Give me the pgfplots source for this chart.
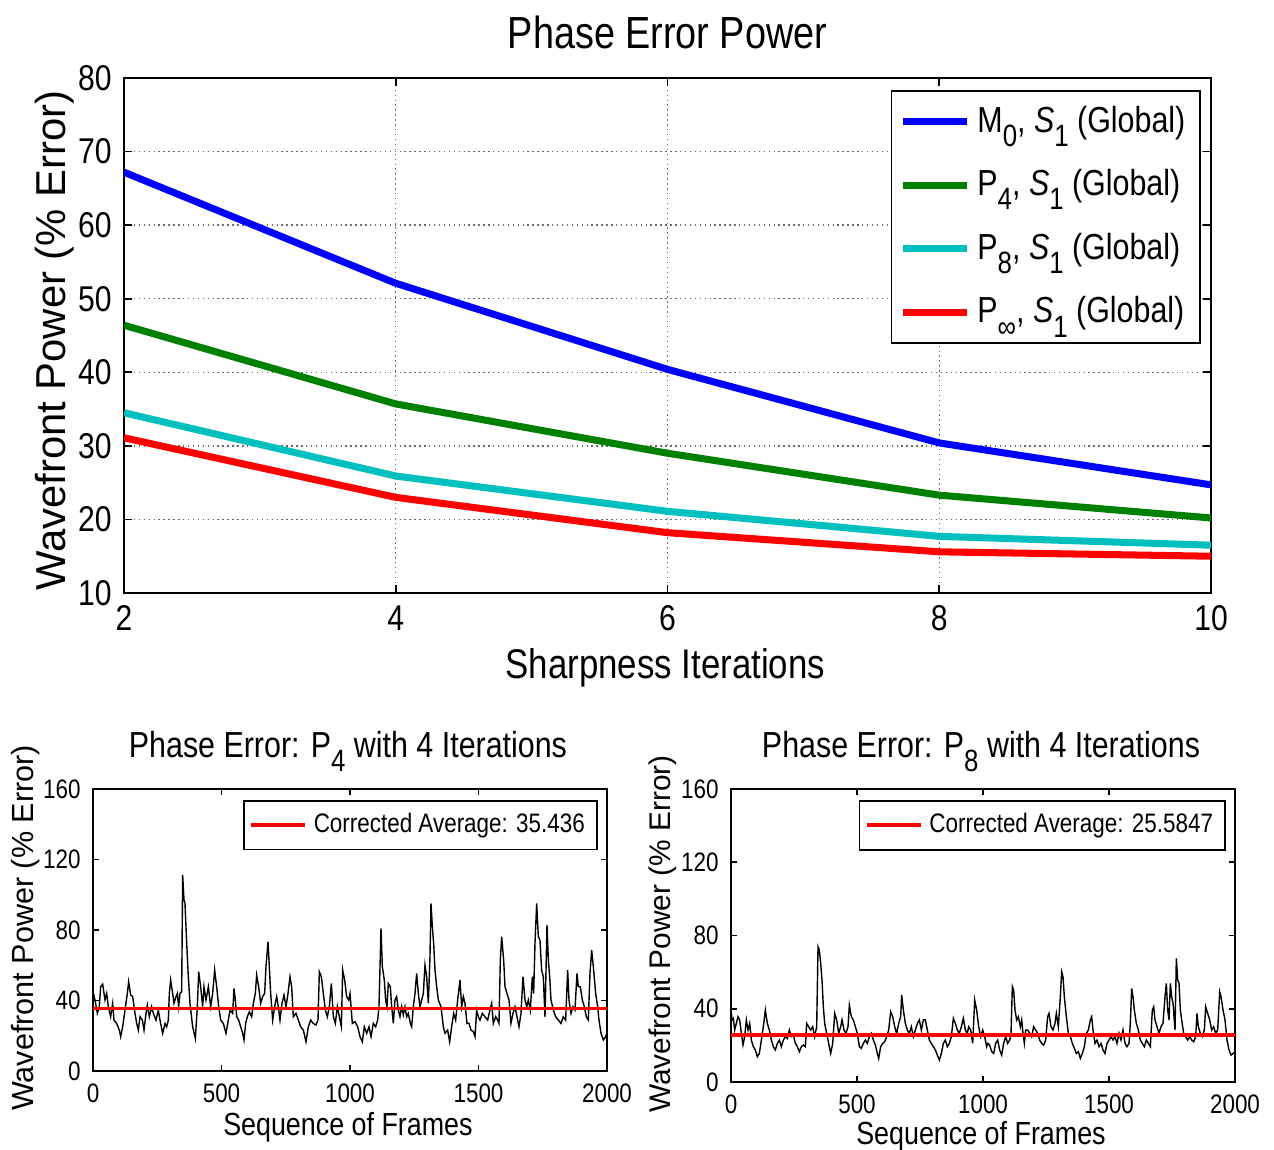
\documentclass[border=0pt]{standalone}
\usepackage{fontspec}
\setmainfont{Liberation Sans}
\newfontfamily\nar{Liberation Sans}[FakeStretch=0.84]
\usepackage{graphicx}
\usepackage{pgfplots}
\pgfplotsset{compat=1.18}

\definecolor{mblue}{RGB}{0,0,255}
\definecolor{mgreen}{RGB}{0,128,0}
\definecolor{mcyan}{RGB}{0,191,191}
\definecolor{mred}{RGB}{255,0,0}

\newcommand{\sub}[1]{\raisebox{-0.75ex}{\scalebox{0.85}{#1}}}

\pgfplotsset{
  matlab/.style={
    scale only axis,
    axis line style={black, line width=0.6pt},
    tick style={black, line width=0.5pt},
    tick align=inside,
    /pgf/number format/assume math mode=true,
    legend cell align=left,
    every axis title shift=0pt,
  },
}

\pgfplotstableread{
x   M0    P4    P8    Pinf
2   67.2  46.4  34.5  31.1
4   52.1  35.7  25.9  23.0
6   40.4  29.0  21.1  18.2
8   30.4  23.3  17.7  15.6
10  24.7  20.2  16.5  15.0
}\mainerr

\begin{document}
\begin{tikzpicture}
\useasboundingbox (0,0) rectangle (12.74,-11.49);

% ---------------- top: phase error power ----------------
\begin{axis}[matlab,
  at={(1.24cm,-5.93cm)}, anchor=south west,
  width=10.87cm, height=5.15cm,
  xmin=2, xmax=10, ymin=10, ymax=80,
  xtick={2,4,6,8,10}, ytick={10,20,...,80},
  grid=major, grid style={densely dotted, black!60, line width=0.4pt},
  major tick length=0.08cm,
  tick label style={font=\nar\fontsize{10.2}{12}\selectfont},
  title={Phase Error Power},
  title style={font=\nar\fontsize{12.8}{15}\selectfont,
    at={(axis description cs:0.5,1.058)}, anchor=base},
  xlabel={Sharpness Iterations},
  xlabel style={font=\nar\fontsize{11.8}{14}\selectfont,
    at={(axis description cs:0.498,-0.166)}, anchor=base},
  ylabel={Wavefront Power (\% Error)},
  ylabel style={font=\fontsize{11.9}{14}\selectfont,
    at={(axis description cs:-0.0635,0.49)}, anchor=center},
  legend style={at={(0.991,0.977)}, anchor=north east, draw=black, line width=0.5pt,
    font=\nar\fontsize{10.3}{12}\selectfont, row sep=0.18cm, inner sep=0.08cm},
  legend image code/.code={\draw[#1] (0cm,0cm) -- (0.64cm,0cm);},
]
\addplot[mblue, line width=2pt] table[x=x, y=M0] {\mainerr};
\addplot[mgreen, line width=2pt] table[x=x, y=P4] {\mainerr};
\addplot[mcyan, line width=2pt] table[x=x, y=P8] {\mainerr};
\addplot[mred, line width=2pt] table[x=x, y=Pinf] {\mainerr};
\legend{{M\sub{0}, \textit{S}\sub{1} (Global)}, {P\sub{4}, \textit{S}\sub{1} (Global)},
        {P\sub{8}, \textit{S}\sub{1} (Global)}, {P\sub{∞}, \textit{S}\sub{1} (Global)}}
\end{axis}

% ---------------- bottom left: P4 ----------------
\begin{axis}[matlab,
  at={(0.93cm,-10.71cm)}, anchor=south west,
  width=5.14cm, height=2.82cm,
  xmin=0, xmax=2000, ymin=0, ymax=160,
  xtick={0,500,...,2000}, ytick={0,40,...,160},
  major tick length=0.06cm,
  tick label style={font=\nar\fontsize{7.6}{9}\selectfont},
  scaled x ticks=false,
  xticklabel style={/pgf/number format/1000 sep={}},
  title={Phase Error: P\sub{4} with 4 Iterations},
  title style={font=\nar\fontsize{10.3}{12}\selectfont,
    at={(axis description cs:0.496,1.113)}, anchor=base},
  xlabel={Sequence of Frames},
  xlabel style={font=\nar\fontsize{9.1}{11}\selectfont,
    at={(axis description cs:0.496,-0.228)}, anchor=base},
  ylabel={Wavefront Power (\% Error)},
  ylabel style={font=\fontsize{8.7}{10}\selectfont,
    at={(axis description cs:-0.132,0.507)}, anchor=center},
  legend style={at={(0.982,0.961)}, anchor=north east, draw=black, line width=0.5pt,
    font=\nar\fontsize{7.6}{9}\selectfont, inner sep=0.05cm},
  legend image code/.code={\draw[#1] (0cm,0cm) -- (0.54cm,0cm);},
]
\addplot[black, line width=0.4pt, forget plot] table {
x y
0 45.0
7.8 40.3
16.9 32.7
24.6 36.5
29.8 47.8
37.6 49.3
46.7 40.3
53.2 44.0
59.7 36.5
68.7 30.8
76.5 38.4
81.7 28.9
92.1 27.0
102.5 23.2
107.7 19.5
115.4 25.1
124.5 34.6
133.6 44.0
138.8 50.7
146.6 43.1
154.3 42.2
163.4 32.7
169.9 27.0
176.4 23.2
182.9 30.8
192.0 28.9
198.5 23.2
206.2 32.7
211.4 37.4
219.2 30.8
228.3 36.5
234.8 32.7
245.1 28.9
254.2 34.6
260.7 28.9
271.1 21.4
280.2 27.0
286.6 25.1
293.1 28.9
297.0 44.0
302.2 51.6
310.0 44.0
315.2 38.4
323.0 42.2
328.1 44.0
333.3 36.5
338.5 44.0
345.0 45.0
348.9 111.2
354.1 97.0
358.0 95.1
364.5 72.4
370.9 53.5
377.4 38.4
387.8 25.1
398.2 18.5
406.0 36.5
411.2 56.3
418.9 47.8
426.7 36.5
431.9 47.8
439.7 40.3
448.8 47.8
457.8 36.5
465.6 44.0
473.4 57.3
481.2 47.8
489.0 36.5
496.8 28.9
507.1 27.0
517.5 21.4
526.6 28.9
533.1 34.6
543.5 32.7
548.6 46.9
553.8 40.3
559.0 30.8
566.8 28.9
574.6 25.1
582.4 21.4
587.5 17.6
594.0 27.0
600.5 30.8
608.3 33.6
617.4 30.8
623.9 38.4
631.6 44.0
636.8 54.4
644.6 47.8
652.4 38.4
660.2 42.2
667.9 44.0
673.1 59.2
680.9 73.4
686.1 59.2
691.3 44.0
699.1 28.9
706.9 36.5
714.6 42.2
721.1 36.5
727.6 28.9
735.4 38.4
743.2 43.1
751.0 36.5
758.8 44.0
766.5 53.5
773.0 47.8
779.5 30.8
789.9 32.7
799.0 28.9
808.0 25.1
818.4 23.2
828.8 16.6
837.9 25.1
847.0 28.9
857.3 27.0
867.7 26.1
875.5 28.9
880.7 56.3
888.5 53.5
896.2 44.0
904.0 34.6
911.8 30.8
919.6 36.5
927.4 49.7
935.1 30.8
942.9 27.0
950.7 36.5
958.5 30.8
966.3 25.1
971.5 57.3
979.2 51.6
987.0 42.2
994.8 40.3
1000.0 44.0
1009.0 27.0
1019.4 28.0
1029.8 25.1
1038.9 19.5
1047.9 16.6
1055.7 25.1
1064.8 21.4
1073.9 25.1
1081.7 19.5
1090.7 27.0
1099.8 25.1
1107.6 28.9
1112.8 36.5
1120.6 80.9
1125.8 59.2
1133.5 51.6
1138.7 40.3
1143.9 36.5
1149.1 49.7
1156.9 47.8
1162.1 36.5
1168.6 27.0
1175.1 40.3
1181.5 42.2
1188.0 34.6
1194.5 30.8
1201.0 36.5
1207.5 31.8
1214.0 36.5
1220.4 30.8
1226.9 32.7
1234.7 27.0
1239.9 25.1
1246.4 36.5
1252.9 44.0
1259.4 55.4
1265.8 44.0
1272.3 36.5
1278.8 40.3
1285.3 44.0
1291.8 60.1
1298.3 53.5
1304.8 38.4
1311.2 64.9
1315.1 95.1
1320.3 81.9
1325.5 72.4
1330.7 57.3
1337.2 47.8
1343.7 40.3
1354.0 36.5
1363.1 25.1
1369.6 21.4
1380.0 23.2
1387.8 16.6
1395.5 25.1
1403.3 32.7
1411.1 28.9
1418.9 40.3
1428.0 51.6
1434.5 36.5
1440.9 42.2
1447.4 38.4
1455.2 27.0
1463.0 27.0
1470.8 23.2
1479.9 22.3
1486.3 19.5
1492.8 34.6
1499.3 30.8
1505.8 28.9
1514.9 32.7
1525.2 30.8
1535.6 28.9
1544.7 34.6
1551.2 38.4
1557.7 27.0
1566.7 30.8
1574.5 28.9
1579.7 27.0
1584.9 63.0
1590.1 76.2
1597.9 63.0
1603.1 47.8
1610.8 44.0
1618.6 40.3
1626.4 27.0
1634.2 32.7
1642.0 36.5
1649.8 30.8
1657.5 25.1
1665.3 32.7
1673.1 53.5
1680.9 40.3
1687.4 36.5
1693.9 40.3
1701.6 34.6
1709.4 53.5
1714.6 44.0
1719.8 72.4
1726.3 95.1
1732.8 76.2
1739.2 74.3
1745.7 57.3
1752.2 53.5
1758.7 30.8
1766.5 82.8
1771.7 63.0
1776.9 53.5
1782.1 40.3
1791.1 34.6
1800.2 30.8
1810.6 28.9
1821.0 27.0
1830.0 30.8
1839.1 28.9
1846.9 57.3
1852.1 40.3
1859.9 32.7
1867.7 36.5
1875.4 34.6
1883.2 55.4
1888.4 47.8
1896.2 47.8
1904.0 40.3
1911.8 36.5
1919.5 30.8
1927.3 28.9
1933.8 55.4
1940.3 68.6
1946.8 59.2
1955.9 44.0
1963.6 36.5
1968.8 28.9
1976.6 21.4
1985.7 17.6
1994.8 19.5
2000.0 22.0
};
\addplot[mred, line width=1.1pt] coordinates {(0,35.436) (2000,35.436)};
\legend{Corrected Average: 35.436}
\end{axis}

% ---------------- bottom right: P8 ----------------
\begin{axis}[matlab,
  at={(7.31cm,-10.82cm)}, anchor=south west,
  width=5.04cm, height=2.93cm,
  xmin=0, xmax=2000, ymin=0, ymax=160,
  xtick={0,500,...,2000}, ytick={0,40,...,160},
  major tick length=0.06cm,
  tick label style={font=\nar\fontsize{7.6}{9}\selectfont},
  scaled x ticks=false,
  xticklabel style={/pgf/number format/1000 sep={}},
  title={Phase Error: P\sub{8} with 4 Iterations},
  title style={font=\nar\fontsize{10.3}{12}\selectfont,
    at={(axis description cs:0.496,1.109)}, anchor=base},
  xlabel={Sequence of Frames},
  xlabel style={font=\nar\fontsize{9.1}{11}\selectfont,
    at={(axis description cs:0.496,-0.214)}, anchor=base},
  ylabel={Wavefront Power (\% Error)},
  ylabel style={font=\fontsize{8.5}{10}\selectfont,
    at={(axis description cs:-0.135,0.505)}, anchor=center},
  legend style={at={(0.982,0.962)}, anchor=north east, draw=black, line width=0.5pt,
    font=\nar\fontsize{7.6}{9}\selectfont, inner sep=0.05cm},
  legend image code/.code={\draw[#1] (0cm,0cm) -- (0.54cm,0cm);},
]
\addplot[black, line width=0.4pt, forget plot] table {
x y
0 39.3
4.0 33.9
9.3 34.8
14.6 28.4
21.2 32.0
27.8 35.7
34.4 33.9
41.0 26.6
47.6 20.2
54.2 24.8
60.9 33.9
67.5 28.4
74.1 32.0
80.7 22.9
88.6 19.3
96.6 17.5
104.5 13.8
112.4 15.6
120.4 22.9
128.3 30.2
136.2 39.3
144.2 32.0
152.1 28.4
160.1 22.9
168.0 19.3
175.9 17.5
183.9 21.1
191.8 22.9
199.7 19.3
207.7 22.9
215.6 24.8
223.6 23.8
231.5 28.4
239.4 24.8
247.4 25.7
255.3 21.1
263.2 19.3
271.2 16.6
279.1 19.3
287.1 20.2
295.0 19.3
300.3 32.0
308.2 30.2
316.2 28.4
324.1 30.2
332.0 24.8
340.0 30.2
345.3 73.9
350.5 72.1
355.8 64.8
361.1 55.7
366.4 41.1
371.7 32.0
379.6 26.6
387.6 21.1
395.5 15.6
403.5 21.1
411.4 37.5
419.3 33.9
427.3 26.6
435.2 30.2
440.5 33.9
448.4 28.4
456.4 26.6
464.3 30.2
469.6 42.0
477.5 35.7
485.5 33.9
493.4 30.2
501.3 26.6
509.3 19.3
517.2 18.4
525.2 21.1
533.1 22.9
541.0 21.1
549.0 24.8
556.9 26.6
564.8 22.9
572.8 20.2
580.7 15.6
586.0 12.9
593.9 19.3
601.9 21.1
609.8 22.0
617.8 24.8
625.7 28.4
633.6 38.4
641.6 35.7
649.5 30.2
657.4 26.6
665.4 32.0
673.3 35.7
677.3 47.5
683.9 39.3
691.8 32.0
699.8 28.4
707.7 26.6
715.6 30.2
723.6 24.8
731.5 28.4
739.4 32.0
747.4 33.9
755.3 28.4
763.3 33.9
771.2 33.9
779.1 28.4
787.1 22.9
795.0 21.1
802.9 19.3
810.9 17.5
818.8 14.7
826.8 12.0
834.7 15.6
842.6 21.1
850.6 22.9
858.5 19.3
866.4 21.1
874.4 24.8
882.3 34.8
890.3 32.0
898.2 28.4
906.1 26.6
914.1 30.2
922.0 34.8
929.9 28.4
937.9 26.6
943.2 30.2
951.1 28.4
959.0 21.1
967.0 44.8
974.9 39.3
982.8 30.2
990.8 24.8
998.7 28.4
1006.6 24.8
1014.6 19.3
1019.9 21.1
1026.4 20.2
1034.4 16.6
1042.3 15.6
1050.2 21.1
1058.2 22.9
1066.1 17.5
1074.0 14.7
1082.0 21.1
1089.9 24.8
1097.9 21.1
1105.8 22.9
1111.1 26.6
1116.4 52.1
1121.7 50.2
1126.9 39.3
1133.6 33.9
1140.2 35.7
1148.1 30.2
1153.4 33.9
1158.7 26.6
1164.0 21.1
1169.3 28.4
1177.2 28.4
1185.2 26.6
1193.1 24.8
1201.0 30.2
1209.0 28.4
1216.9 26.6
1224.8 22.9
1232.8 21.1
1240.7 20.2
1248.6 22.9
1256.6 35.7
1261.9 37.5
1269.8 30.2
1277.7 28.4
1285.7 32.0
1291.0 37.5
1298.9 30.2
1306.9 46.6
1312.1 60.2
1317.4 57.5
1322.7 46.6
1330.7 35.7
1338.6 26.6
1346.5 24.8
1354.5 21.1
1362.4 18.4
1370.3 15.6
1378.3 16.6
1386.2 12.9
1394.2 15.6
1402.1 19.3
1410.0 26.6
1418.0 28.4
1425.9 33.9
1431.2 35.7
1436.5 28.4
1444.4 21.1
1452.4 22.9
1460.3 19.3
1468.2 21.1
1476.2 17.5
1484.1 15.6
1492.0 21.1
1500.0 22.9
1507.9 24.8
1515.9 22.9
1523.8 24.8
1531.7 21.1
1539.7 26.6
1547.6 22.9
1555.5 28.4
1563.5 21.1
1571.4 19.3
1579.4 21.1
1584.6 32.0
1589.9 51.1
1595.2 46.6
1600.5 39.3
1608.5 32.0
1616.4 28.4
1624.3 22.9
1632.3 21.1
1640.2 19.3
1648.1 22.9
1656.1 21.1
1664.0 19.3
1671.9 39.3
1677.2 41.1
1682.5 33.9
1690.5 30.2
1698.4 26.6
1706.3 30.2
1714.3 32.0
1722.2 46.6
1727.5 53.9
1732.8 39.3
1738.1 33.9
1743.4 53.9
1748.7 46.6
1754.0 43.0
1761.9 28.4
1767.2 67.5
1772.5 55.7
1777.8 53.9
1783.1 39.3
1788.4 33.9
1796.3 26.6
1804.2 24.8
1812.2 22.9
1820.1 24.8
1828.0 22.9
1836.0 22.0
1843.9 24.8
1849.2 37.5
1854.5 30.2
1862.4 26.6
1870.4 24.8
1878.3 28.4
1883.6 41.1
1891.5 37.5
1899.5 33.9
1907.4 28.4
1915.3 30.2
1923.3 26.6
1931.2 28.4
1939.2 49.3
1944.5 46.6
1952.4 39.3
1960.3 33.9
1968.3 22.9
1976.2 17.5
1984.1 14.7
1992.1 15.6
2000.0 16.6
};
\addplot[mred, line width=1.1pt] coordinates {(0,25.5847) (2000,25.5847)};
\legend{Corrected Average: 25.5847}
\end{axis}
\end{tikzpicture}
\end{document}
